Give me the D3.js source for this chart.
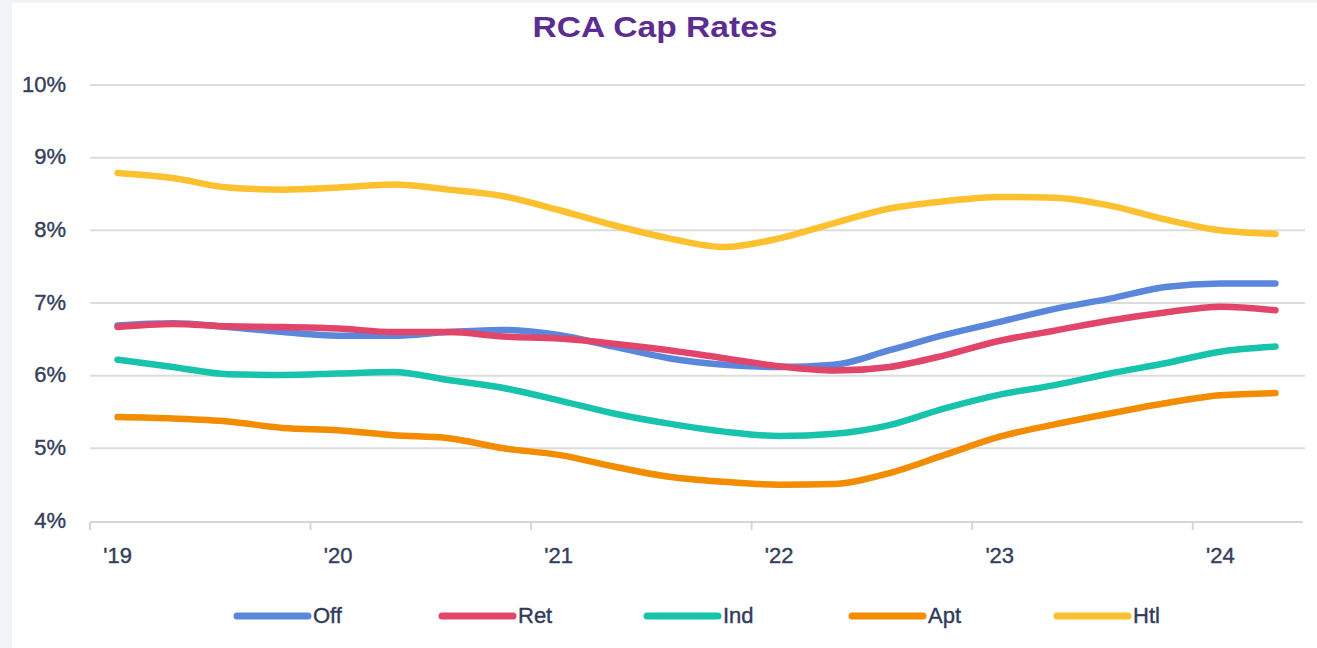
<!DOCTYPE html>
<html>
<head>
<meta charset="utf-8">
<script src="https://cdn.jsdelivr.net/npm/d3@7"></script>
<style>
  html, body { margin: 0; padding: 0; background: #f2f3f5; }
  svg { display: block; }
  text { font-family: "Liberation Sans", Arial, sans-serif; }
  .lbl { stroke: #34405c; stroke-width: 0.4px; }
</style>
</head>
<body>
<div id="chart"></div>
<script>
// quarterly, Q1 2019 .. Q2 2024
var quarters = ["19Q1","19Q2","19Q3","19Q4","20Q1","20Q2","20Q3","20Q4",
                "21Q1","21Q2","21Q3","21Q4","22Q1","22Q2","22Q3","22Q4",
                "23Q1","23Q2","23Q3","23Q4","24Q1","24Q2"];
var yearLabels = ["'19", "'20", "'21", "'22", "'23", "'24"];
var yTicks = [4, 5, 6, 7, 8, 9, 10];

var seriesNames = ["Off", "Ret", "Ind", "Apt", "Htl"];
var offVals = [6.69, 6.72, 6.67, 6.60, 6.55, 6.55, 6.60, 6.63, 6.56, 6.40, 6.24, 6.15,
               6.12, 6.15, 6.35, 6.56, 6.74, 6.92, 7.06, 7.22, 7.27, 7.27];
var retVals = [6.67, 6.71, 6.68, 6.67, 6.65, 6.60, 6.60, 6.54, 6.51, 6.44, 6.35, 6.24,
               6.13, 6.07, 6.12, 6.28, 6.48, 6.62, 6.76, 6.87, 6.95, 6.90];
var indVals = [6.22, 6.12, 6.02, 6.01, 6.03, 6.05, 5.94, 5.83, 5.66, 5.48, 5.34, 5.23,
               5.17, 5.20, 5.32, 5.55, 5.74, 5.87, 6.03, 6.17, 6.33, 6.40];
var aptVals = [5.43, 5.41, 5.37, 5.28, 5.25, 5.18, 5.14, 5.00, 4.91, 4.75, 4.61, 4.54,
               4.50, 4.51, 4.66, 4.91, 5.16, 5.33, 5.48, 5.62, 5.73, 5.76];
var htlVals = [8.79, 8.72, 8.59, 8.56, 8.59, 8.63, 8.56, 8.47, 8.28, 8.07, 7.89, 7.77,
               7.89, 8.10, 8.30, 8.40, 8.46, 8.45, 8.34, 8.15, 8.00, 7.95];
var colors = ["#5a87db", "#e2456a", "#17c3ab", "#f28c00", "#fdc02f"];

var series = [offVals, retVals, indVals, aptVals, htlVals].map(function(v, i) {
  return {name: seriesNames[i], color: colors[i], values: v};
});

var W = 1317, H = 648;
var svg = d3.select("#chart").append("svg")
    .attr("width", W)
    .attr("height", H);

// white panel
svg.append("rect")
    .attr("x", 12).attr("y", 3)
    .attr("width", W - 12).attr("height", H - 3)
    .attr("fill", "#ffffff");

var x = d3.scaleBand().domain(quarters).range([90, 1303]).padding(0);
var y = d3.scaleLinear().domain([4, 10]).range([521, 85]);
var cx = function(q) { return x(q) + x.bandwidth() / 2; };

// title
svg.append("text")
    .attr("x", 655).attr("y", 37)
    .attr("text-anchor", "middle")
    .attr("font-size", 30)
    .attr("font-weight", "bold")
    .attr("fill", "#5c2d91")
    .attr("textLength", 245)
    .attr("lengthAdjust", "spacingAndGlyphs")
    .text("RCA Cap Rates");

// gridlines
svg.append("g").selectAll("line")
    .data(yTicks.slice(1))
    .enter().append("line")
    .attr("x1", 90).attr("x2", 1305)
    .attr("y1", function(d) { return y(d); })
    .attr("y2", function(d) { return y(d); })
    .attr("stroke", "#dcdcdc")
    .attr("stroke-width", 2);

// y labels
svg.append("g").selectAll("text")
    .data(yTicks)
    .enter().append("text")
    .attr("class", "lbl")
    .attr("x", 66)
    .attr("y", function(d) { return y(d); })
    .attr("dy", "0.3em")
    .attr("text-anchor", "end")
    .attr("font-size", 22)
    .attr("fill", "#34405c")
    .text(function(d) { return d + "%"; });

// x axis
var firstQ = quarters.filter(function(q, i) { return i % 4 === 0; });
var xAxis = svg.append("g");
xAxis.append("line")
    .attr("x1", 90).attr("x2", 1303)
    .attr("y1", 522).attr("y2", 522)
    .attr("stroke", "#d6d6d6").attr("stroke-width", 2);
xAxis.selectAll(".tick")
    .data(firstQ)
    .enter().append("line")
    .attr("x1", function(d) { return x(d); })
    .attr("x2", function(d) { return x(d); })
    .attr("y1", 522).attr("y2", 530)
    .attr("stroke", "#d6d6d6").attr("stroke-width", 2);
xAxis.selectAll("text")
    .data(firstQ)
    .enter().append("text")
    .attr("class", "lbl")
    .attr("x", function(d) { return cx(d); })
    .attr("y", 563)
    .attr("text-anchor", "middle")
    .attr("font-size", 22)
    .attr("fill", "#34405c")
    .text(function(d, i) { return yearLabels[i]; });

// lines
var line = d3.line()
    .x(function(d, i) { return cx(quarters[i]); })
    .y(function(d) { return y(d); })
    .curve(d3.curveMonotoneX);

svg.append("g").selectAll("path")
    .data(series)
    .enter().append("path")
    .attr("d", function(d) { return line(d.values); })
    .attr("fill", "none")
    .attr("stroke", function(d) { return d.color; })
    .attr("stroke-width", 6.5)
    .attr("stroke-linecap", "round")
    .attr("stroke-linejoin", "round");

// legend
var legend = svg.append("g").selectAll("g")
    .data(series)
    .enter().append("g")
    .attr("transform", function(d, i) { return "translate(" + (237 + i * 205) + ",616)"; });
legend.append("line")
    .attr("x1", 0).attr("x2", 71)
    .attr("y1", 0).attr("y2", 0)
    .attr("stroke", function(d) { return d.color; })
    .attr("stroke-width", 7)
    .attr("stroke-linecap", "round");
legend.append("text")
    .attr("class", "lbl")
    .attr("x", 76).attr("y", 7)
    .attr("font-size", 22)
    .attr("fill", "#2f3b57")
    .text(function(d) { return d.name; });
</script>
</body>
</html>
